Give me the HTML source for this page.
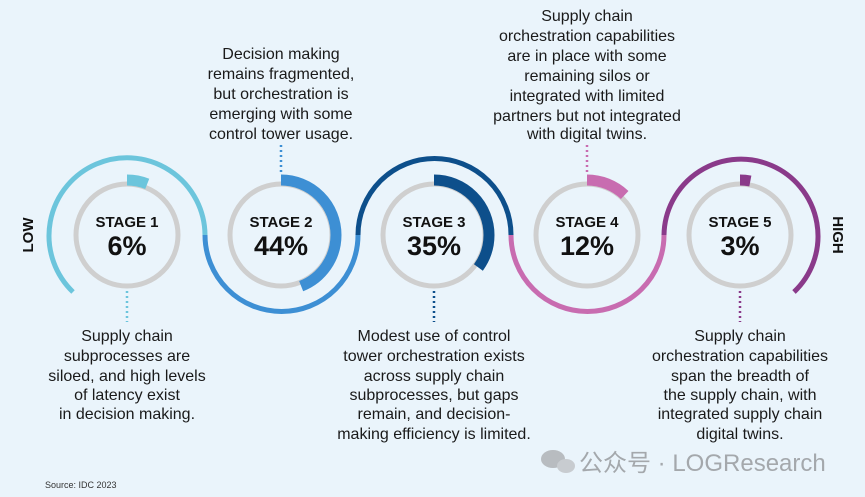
<!DOCTYPE html>
<html><head><meta charset="utf-8"><style>
html,body{margin:0;padding:0;background:#eaf4fb;}
body{width:865px;height:497px;overflow:hidden;position:relative;font-family:"Liberation Sans","Noto Sans CJK SC",sans-serif;}
svg{position:absolute;left:0;top:0;}
.t{font-family:"Liberation Sans",sans-serif;font-size:16px;fill:#1a1a1a;text-anchor:middle;}
.s{font-family:"Liberation Sans",sans-serif;font-weight:bold;font-size:15px;fill:#111;text-anchor:middle;}
.p{font-family:"Liberation Sans",sans-serif;font-weight:bold;font-size:27px;fill:#111;text-anchor:middle;}
</style></head><body>
<svg width="865" height="497" viewBox="0 0 865 497">
<g fill="none" stroke-width="5">
<path d="M73 292 A78 78 0 1 1 205 235" stroke="#6cc5dc"/>
<path d="M205 235 A76.5 76.5 0 0 0 358 235" stroke="#3d8fd4"/>
<path d="M358 235 A76.5 76.5 0 0 1 511 235" stroke="#0d4f8b"/>
<path d="M511 235 A76.5 76.5 0 0 0 664 235" stroke="#c86cb0"/>
<path d="M664 235 A77 77 0 1 1 794 292" stroke="#8a3a8a"/>
</g>
<g fill="none" stroke="#cfcfcf" stroke-width="5">
<circle cx="127" cy="235" r="51"/><circle cx="281" cy="235" r="51"/><circle cx="434" cy="235" r="51"/><circle cx="587" cy="235" r="51"/><circle cx="740" cy="235" r="51"/>
</g>
<g fill="none" stroke-width="11">
<circle cx="127" cy="235" r="55" stroke="#6cc5dc" stroke-dasharray="20.7 400" transform="rotate(-90 127 235)"/>
<circle cx="281" cy="235" r="55" stroke="#3d8fd4" stroke-dasharray="152 400" transform="rotate(-90 281 235)"/>
<circle cx="434" cy="235" r="55" stroke="#0d4f8b" stroke-dasharray="121 400" transform="rotate(-90 434 235)"/>
<circle cx="587" cy="235" r="55" stroke="#c86cb0" stroke-dasharray="41.5 400" transform="rotate(-90 587 235)"/>
<circle cx="740" cy="235" r="55" stroke="#8a3a8a" stroke-dasharray="10.4 400" transform="rotate(-90 740 235)"/>
</g>
<g stroke-width="2.5" stroke-dasharray="2 3">
<line x1="127" y1="291" x2="127" y2="322" stroke="#6cc5dc"/>
<line x1="281" y1="145" x2="281" y2="175" stroke="#3d8fd4"/>
<line x1="434" y1="291" x2="434" y2="322" stroke="#0d4f8b"/>
<line x1="587" y1="145" x2="587" y2="175" stroke="#c86cb0"/>
<line x1="740" y1="291" x2="740" y2="322" stroke="#8a3a8a"/>
</g>
<text class="s" x="127" y="227">STAGE 1</text><text class="p" x="127" y="255">6%</text>
<text class="s" x="281" y="227">STAGE 2</text><text class="p" x="281" y="255">44%</text>
<text class="s" x="434" y="227">STAGE 3</text><text class="p" x="434" y="255">35%</text>
<text class="s" x="587" y="227">STAGE 4</text><text class="p" x="587" y="255">12%</text>
<text class="s" x="740" y="227">STAGE 5</text><text class="p" x="740" y="255">3%</text>
<text class="s" transform="translate(33 235) rotate(-90)">LOW</text>
<text class="s" transform="translate(833 235) rotate(90)">HIGH</text>
<text class="t" x="281" y="59">Decision making</text>
<text class="t" x="281" y="79">remains fragmented,</text>
<text class="t" x="281" y="99">but orchestration is</text>
<text class="t" x="281" y="119">emerging with some</text>
<text class="t" x="281" y="139">control tower usage.</text>
<text class="t" x="587" y="21">Supply chain</text>
<text class="t" x="587" y="41">orchestration capabilities</text>
<text class="t" x="587" y="61">are in place with some</text>
<text class="t" x="587" y="81">remaining silos or</text>
<text class="t" x="587" y="101">integrated with limited</text>
<text class="t" x="587" y="121">partners but not integrated</text>
<text class="t" x="587" y="139">with digital twins.</text>
<text class="t" x="127" y="341">Supply chain</text>
<text class="t" x="127" y="361">subprocesses are</text>
<text class="t" x="127" y="381">siloed, and high levels</text>
<text class="t" x="127" y="400">of latency exist</text>
<text class="t" x="127" y="419">in decision making.</text>
<text class="t" x="434" y="341">Modest use of control</text>
<text class="t" x="434" y="361">tower orchestration exists</text>
<text class="t" x="434" y="381">across supply chain</text>
<text class="t" x="434" y="400">subprocesses, but gaps</text>
<text class="t" x="434" y="419">remain, and decision-</text>
<text class="t" x="434" y="439">making efficiency is limited.</text>
<text class="t" x="740" y="341">Supply chain</text>
<text class="t" x="740" y="361">orchestration capabilities</text>
<text class="t" x="740" y="381">span the breadth of</text>
<text class="t" x="740" y="400">the supply chain, with</text>
<text class="t" x="740" y="419">integrated supply chain</text>
<text class="t" x="740" y="439">digital twins.</text>
<text x="45" y="488" style="font-family:'Liberation Sans',sans-serif;font-size:9px;fill:#333">Source: IDC 2023</text>
<ellipse cx="553" cy="459" rx="12" ry="9" fill="#b8bcc0"/>
<ellipse cx="566" cy="466" rx="9" ry="7" fill="#c8ccd0"/>
<text x="579" y="471" style="font-family:'Liberation Sans','Noto Sans CJK SC',sans-serif;font-size:24px;fill:#a4a8ac">公众号 · LOGResearch</text>
</svg>
</body></html>
